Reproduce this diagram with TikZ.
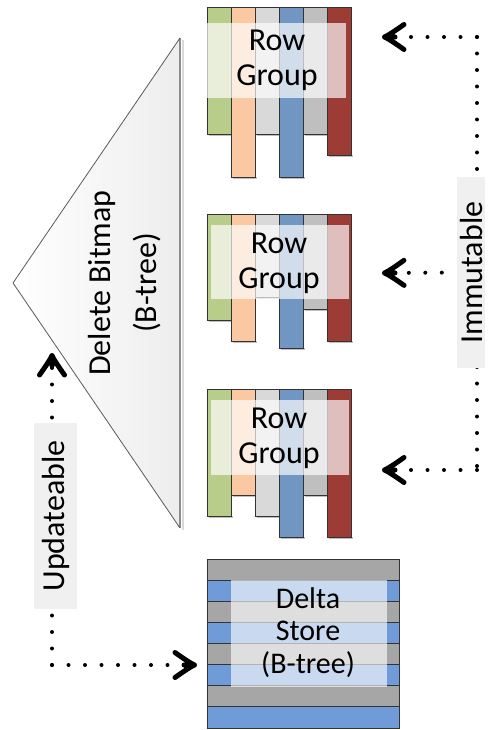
\documentclass[tikz,border=0pt]{standalone}
\usepackage{fontspec}
\setmainfont{Carlito}
\usetikzlibrary{arrows.meta}
\definecolor{cgreen}{HTML}{B9CD8B}
\definecolor{corange}{HTML}{FAC9A1}
\definecolor{clgray}{HTML}{D9D9D9}
\definecolor{cblue}{HTML}{7196C2}
\definecolor{cgray}{HTML}{BFBFBF}
\definecolor{cred}{HTML}{9D3B35}
\definecolor{dgray}{HTML}{A6A6A6}
\definecolor{dblue}{HTML}{6F9BD8}
\definecolor{lblbg}{HTML}{F0F0F0}
\pgfdeclarearrow{
  name=VBarb,
  setup code={
    \pgfarrowssettipend{0pt}
    \pgfarrowssetlineend{-3pt}
    \pgfarrowssetbackend{-24pt}
    \pgfarrowssetvisualbackend{-24pt}
    \pgfarrowshullpoint{0pt}{0pt}
    \pgfarrowshullpoint{-24pt}{14pt}
    \pgfarrowshullpoint{-24pt}{-14pt}
  },
  drawing code={
    \pgfsetdash{}{0pt}
    \pgfsetroundcap
    \pgfsetroundjoin
    \pgfsetlinewidth{5pt}
    \pgfpathmoveto{\pgfpoint{-22pt}{12.5pt}}
    \pgfpathcurveto{\pgfpoint{-17pt}{9pt}}{\pgfpoint{-8pt}{2.5pt}}{\pgfpoint{-2.5pt}{0pt}}
    \pgfpathcurveto{\pgfpoint{-8pt}{-2.5pt}}{\pgfpoint{-17pt}{-9pt}}{\pgfpoint{-22pt}{-12.5pt}}
    \pgfpathmoveto{\pgfpoint{-2.5pt}{0pt}}
    \pgfpathlineto{\pgfpoint{-13pt}{0pt}}
    \pgfusepathqstroke
  }
}
\tikzset{
  colbox/.style={draw=black!80, line width=0.8pt},
  veil/.style={fill=white, fill opacity=0.68},
  bigtext/.style={font=\fontsize{32}{35}\selectfont, align=center, inner sep=0pt},
  dotline/.style={line width=4pt, line cap=round, dash pattern=on 0pt off 16.5pt},
  arr/.style={-{VBarb}},
  lbl/.style={fill=lblbg, font=\fontsize{32}{34}\selectfont, rotate=90, inner sep=0pt}
}
\begin{document}
\begin{tikzpicture}[x=1pt,y=-1pt]
\useasboundingbox (0,0) rectangle (492,730);
% triangle (delete bitmap)
\shade[left color=white, right color=black!7] (13,283) -- (180,38) -- (180,528) -- cycle;
\draw[black!15, line width=2pt] (182.5,40) -- (182.5,530);
\draw[black!45, line width=1.5pt] (180,38) -- (180,528);
\draw[black!65, line width=0.8pt] (180,38) -- (13,283) -- (180,528);
\node[bigtext, font=\fontsize{32}{46}\selectfont, rotate=90] (bitmap) at (125,283) {Delete Bitmap\\(B-tree)};
% row groups
\foreach \top/\bots in {7/{134,177,134,177,134,155}, 214/{320,341,297,348,309,341}, 389/{516,495,516,537,495,537}}{
  \foreach \b [count=\i] in \bots {
    \pgfmathsetmacro{\xl}{207+24*(\i-1)}
    \ifcase\i\or\def\cc{cgreen}\or\def\cc{corange}\or\def\cc{clgray}\or\def\cc{cblue}\or\def\cc{cgray}\or\def\cc{cred}\fi
    \fill[black!25] (\xl+1.5,\b) rectangle (\xl+25.5,\b+2);
    \filldraw[colbox, fill=\cc] (\xl,\top) rectangle (\xl+24,\b);
  }
}
\fill[veil] (207,23) rectangle (346,98);
\fill[veil] (211,225) rectangle (349,299);
\fill[veil] (211,400) rectangle (349,475);
\node[bigtext] (g1) at (277,60.5) {Row\\Group};
\node[bigtext] (g2) at (279,263.5) {Row\\Group};
\node[bigtext] (g3) at (279,438.5) {Row\\Group};
% delta store
\node[minimum width=192pt, minimum height=169pt, inner sep=0pt] (delta) at (303,643.5) {};
\foreach \i in {0,...,7}{
  \pgfmathsetmacro{\yt}{559+21.125*\i}
  \ifodd\i \def\cc{dblue}\else\def\cc{dgray}\fi
  \filldraw[colbox, fill=\cc] (207,\yt) rectangle (399,\yt+21.125);
}
\fill[veil, fill opacity=0.63] (231,580.1) rectangle (387,686.8);
\node[bigtext, font=\fontsize{30}{32.5}\selectfont] (dtext) at (308,632.5) {Delta\\Store\\(B-tree)};
% immutable connectors
\coordinate (ic1) at (477,37);
\coordinate (ic3) at (477,470);
\coordinate (t1) at (382,37);
\coordinate (t2) at (382,273);
\coordinate (t3) at (382,470);
\draw[dotline] (ic1) -- (ic3);
\draw[dotline, arr] (ic1) -- (t1);
\draw[dotline, arr] (ic3) -- (t3);
\node[lbl, minimum width=191pt, minimum height=28pt] (imm) at (471,272.5) {Immutable};
\draw[dotline, arr, shorten <=15pt] (imm.north) -- (t2);
% updateable connectors
\coordinate (uc) at (52,665);
\coordinate (ut) at (52,353);
\coordinate (ur) at (197,665);
\draw[dotline, arr] (uc) -- (ur);
\draw[dotline, arr] (uc) -- (ut);
\node[lbl, minimum width=186pt, minimum height=43pt] (upd) at (55.5,516) {Updateable};
\end{tikzpicture}
\end{document}
